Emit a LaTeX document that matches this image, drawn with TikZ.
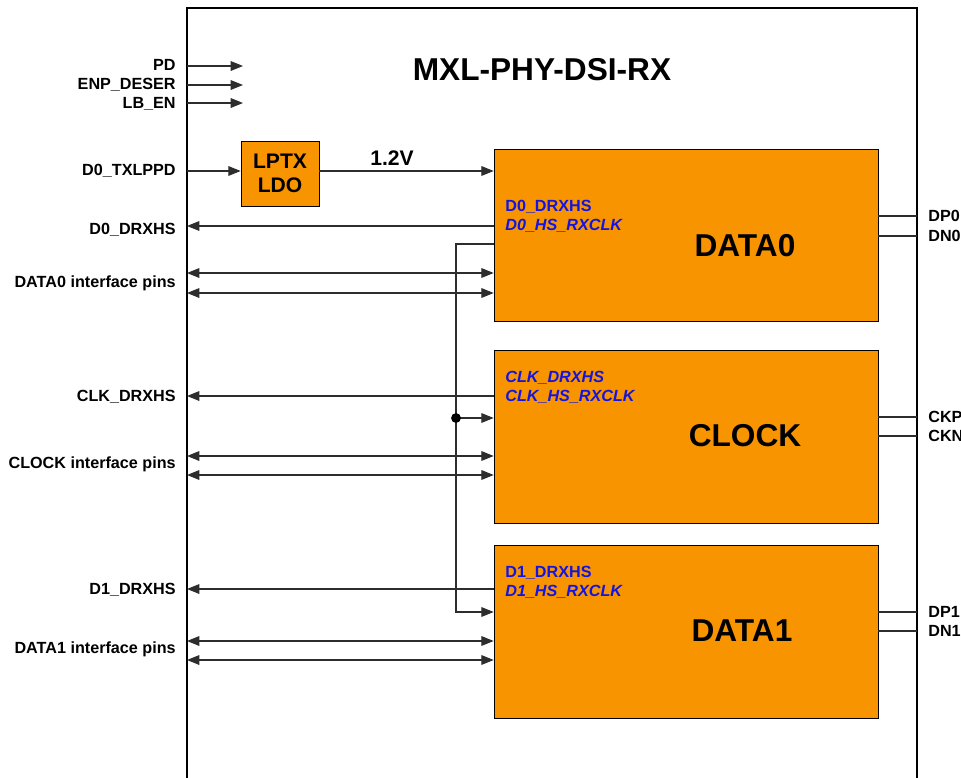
\documentclass[tikz,border=0pt]{standalone}
\usepackage{fontspec}
\setmainfont{Liberation Sans}
\usetikzlibrary{arrows.meta,calc}
\definecolor{phyorange}{RGB}{247,148,0}
\definecolor{pinblue}{RGB}{20,20,225}
\definecolor{wiregray}{RGB}{45,45,45}
\tikzset{
  block/.style={draw=black, fill=phyorange, inner sep=0pt},
  pinlbl/.style={font=\fontsize{9.2}{10}\selectfont\bfseries, inner sep=0pt},
  inlbl/.style={font=\fontsize{9.2}{10}\selectfont\bfseries, text=pinblue, inner sep=0pt, anchor=west},
  initlbl/.style={inlbl, font=\fontsize{9.2}{10}\selectfont\bfseries\itshape},
  biglbl/.style={font=\fontsize{18}{20}\selectfont\bfseries, inner sep=0pt},
  tip/.tip={Triangle[length=7pt,width=5.5pt]},
  wire/.style={draw=wiregray, line width=0.6pt},
  sig/.style={wire, -tip},
  bisig/.style={wire, tip-tip}
}
\begin{document}
\begin{tikzpicture}[x=0.02cm,y=-0.02cm]
\useasboundingbox (0,0) rectangle (961,778);
\draw[line width=0.6pt] (187,800) -- (187,8) -- (917,8) -- (917,800); % outer box
\node[biglbl] (title) at (542,70) {MXL-PHY-DSI-RX}; % title
% blocks
\node[block, minimum width=1.56cm, minimum height=1.3cm, align=center,
      font=\fontsize{12}{13.6}\selectfont\bfseries] (ldo) at (280,173.5) {LPTX\\LDO};
\node[block, minimum width=7.68cm, minimum height=3.44cm] (data0) at (686,235) {};
\node[block, minimum width=7.68cm, minimum height=3.46cm] (clock) at (686,436.5) {};
\node[block, minimum width=7.68cm, minimum height=3.46cm] (data1) at (686,631.5) {};
\node[biglbl] (data0lbl) at (745,246) {DATA0};
\node[biglbl] (clocklbl) at (745,436) {CLOCK};
\node[biglbl] (data1lbl) at (742,631) {DATA1};
% labels inside the blocks
\node[inlbl] (d0rxin) at (505,207) {D0\_DRXHS};
\node[initlbl] (d0clkin) at (505,226) {D0\_HS\_RXCLK};
\node[initlbl] (clkrxin) at (505,378) {CLK\_DRXHS};
\node[initlbl] (clkclkin) at (505,397) {CLK\_HS\_RXCLK};
\node[inlbl] (d1rxin) at (505,573) {D1\_DRXHS};
\node[initlbl] (d1clkin) at (505,592) {D1\_HS\_RXCLK};
% left pins
\node[pinlbl, anchor=east] (pd) at (176,65) {PD};
\node[pinlbl, anchor=east] (enp) at (176,85) {ENP\_DESER};
\node[pinlbl, anchor=east] (lben) at (176,104) {LB\_EN};
\node[pinlbl, anchor=east] (txlppd) at (176,171) {D0\_TXLPPD};
\node[pinlbl, anchor=east] (d0rx) at (176,230) {D0\_DRXHS};
\node[pinlbl, anchor=east] (d0pins) at (176,283) {DATA0 interface pins};
\node[pinlbl, anchor=east] (clkrx) at (176,397) {CLK\_DRXHS};
\node[pinlbl, anchor=east] (clkpins) at (176,464) {CLOCK interface pins};
\node[pinlbl, anchor=east] (d1rx) at (176,590) {D1\_DRXHS};
\node[pinlbl, anchor=east] (d1pins) at (176,649) {DATA1 interface pins};
\coordinate (pdb) at (187,66);
\coordinate (enpb) at (187,85);
\coordinate (lbenb) at (187,103);
\coordinate (txlppdb) at (187,171);
\coordinate (d0rxb) at (187,226);
\coordinate (clkrxb) at (187,396);
\coordinate (d1rxb) at (187,589);
\draw[sig] (pdb) -- ++(56,0); % PD
\draw[sig] (enpb) -- ++(56,0); % ENP_DESER
\draw[sig] (lbenb) -- ++(56,0); % LB_EN
\draw[sig] (txlppdb) -- (txlppdb -| ldo.west); % into LDO
\draw[sig] (ldo.east |- txlppdb) -- (txlppdb -| data0.west); % 1.2V
\node[font=\fontsize{12}{14}\selectfont\bfseries, inner sep=0pt] (vlbl) at (392,158) {1.2V};
\draw[sig] (d0rxb -| data0.west) -- (d0rxb); % D0_DRXHS
\draw[sig] (clkrxb -| clock.west) -- (clkrxb); % CLK_DRXHS
\draw[sig] (d1rxb -| data1.west) -- (d1rxb); % D1_DRXHS
\foreach \y/\blk in {273/data0,293/data0,456/clock,475/clock,641/data1,660/data1}
  \draw[bisig] (187,\y) -- (\blk.west |- 0,\y); % interface pins
% HS clock bus
\coordinate (bustop) at (456,244);
\coordinate (busdot) at (456,418);
\coordinate (busbot) at (456,612);
\draw[sig] (bustop -| data0.west) -- (bustop) -- (busbot) -- (busbot -| data1.west);
\draw[sig] (busdot) -- (busdot -| clock.west);
\fill (busdot) circle (2.8pt);
% right pins
\foreach \y/\blk/\name in {216/data0/DP0,236/data0/DN0,417/clock/CKP,436/clock/CKN,612/data1/DP1,631/data1/DN1}{
  \draw[wire] (\blk.east |- 0,\y) -- (917,\y);
  \node[pinlbl, anchor=west] at (928,\y) {\name};
}
\end{tikzpicture}
\end{document}
